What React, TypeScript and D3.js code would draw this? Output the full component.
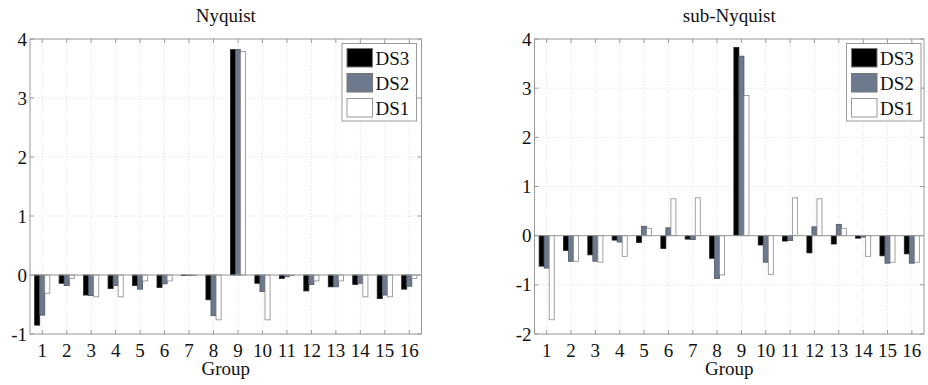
import React from "react";
import * as d3 from "d3";

const groups = ["1","2","3","4","5","6","7","8","9","10","11","12","13","14","15","16"];
const seriesNames = ["DS3", "DS2", "DS1"];
const seriesColors = ["#000000", "#6d7a8e", "#ffffff"];

const nyqDS3 = [-0.85,-0.14,-0.34,-0.23,-0.18,-0.21,-0.01,-0.42,3.82,-0.14,-0.06,-0.27,-0.2,-0.16,-0.4,-0.24];
const nyqDS2 = [-0.68,-0.18,-0.35,-0.18,-0.24,-0.15,-0.01,-0.69,3.82,-0.28,-0.03,-0.16,-0.2,-0.14,-0.34,-0.19];
const nyqDS1 = [-0.31,-0.06,-0.37,-0.37,-0.1,-0.1,-0.005,-0.76,3.79,-0.76,-0.005,-0.1,-0.1,-0.37,-0.37,-0.06];

const subDS3 = [-0.62,-0.3,-0.39,-0.09,-0.14,-0.26,-0.07,-0.46,3.83,-0.19,-0.11,-0.35,-0.17,-0.05,-0.41,-0.37];
const subDS2 = [-0.66,-0.52,-0.52,-0.13,0.19,0.16,-0.08,-0.87,3.65,-0.54,-0.1,0.18,0.23,-0.03,-0.56,-0.56];
const subDS1 = [-1.71,-0.52,-0.54,-0.42,0.15,0.75,0.77,-0.8,2.85,-0.79,0.77,0.75,0.15,-0.42,-0.54,-0.54];

const nyqTicks = [-1, 0, 1, 2, 3, 4];
const subTicks = [-2, -1, 0, 1, 2, 3, 4];

const FONT = "'Liberation Serif', 'Times New Roman', serif";
const AXIS = "#9a9a9a";

type PanelProps = {
  title: string;
  x0: number; x1: number; y0: number; y1: number;
  domain: [number, number];
  ticks: number[];
  series: number[][];
  legendX: number;
};

function Panel({ title, x0, x1, y0, y1, domain, ticks, series, legendX }: PanelProps) {
  const x = d3.scaleBand<string>().domain(groups).range([x0, x1]).padding(0);
  const y = d3.scaleLinear().domain(domain).range([y1, y0]);
  const bw = x.bandwidth();
  const inner = d3.scaleBand<string>().domain(seriesNames).range([-bw * 0.31, bw * 0.31]).padding(0);
  const tickLen = 4;
  return (
    <g>
      <text x={(x0 + x1) / 2} y={22} textAnchor="middle" fontFamily={FONT} fontSize={19} fill="#111">{title}</text>
      <rect x={x0} y={y0} width={x1 - x0} height={y1 - y0} fill="#fff" />
      {/* grid */}
      {groups.map((g) => {
        const cx = (x(g) as number) + bw / 2;
        return <line key={"gv" + g} x1={cx} x2={cx} y1={y0} y2={y1} stroke="#d8d8d8" strokeWidth={0.8} strokeDasharray="1,2" />;
      })}
      {ticks.map((t) => (
        <line key={"gh" + t} x1={x0} x2={x1} y1={y(t)} y2={y(t)} stroke="#d8d8d8" strokeWidth={0.8} strokeDasharray="1,2" />
      ))}
      {/* bars */}
      {groups.map((g, i) => {
        const cx = (x(g) as number) + bw / 2;
        return seriesNames.map((s, si) => {
          const v = series[si][i];
          const top = Math.min(y(v), y(0));
          const h = Math.abs(y(v) - y(0));
          return (
            <rect key={g + s} x={cx + (inner(s) as number)} y={top} width={inner.bandwidth()} height={Math.max(h, 0.6)}
              fill={seriesColors[si]} stroke={si === 0 ? "#222" : si === 1 ? "#4a5566" : "#8a8a8a"} strokeWidth={0.8} />
          );
        });
      })}
      {/* baseline */}
      <line x1={x0} x2={x1} y1={y(0)} y2={y(0)} stroke={AXIS} strokeWidth={1} />
      {/* axes box */}
      <rect x={x0} y={y0} width={x1 - x0} height={y1 - y0} fill="none" stroke={AXIS} strokeWidth={1} />
      {groups.map((g) => {
        const cx = (x(g) as number) + bw / 2;
        return (
          <g key={"xt" + g}>
            <line x1={cx} x2={cx} y1={y1} y2={y1 - tickLen} stroke={AXIS} />
            <line x1={cx} x2={cx} y1={y0} y2={y0 + tickLen} stroke={AXIS} />
            <text x={cx} y={357} textAnchor="middle" fontFamily={FONT} fontSize={19} fill="#111">{g}</text>
          </g>
        );
      })}
      {ticks.map((t) => (
        <g key={"yt" + t}>
          <line x1={x0} x2={x0 + tickLen} y1={y(t)} y2={y(t)} stroke={AXIS} />
          <line x1={x1} x2={x1 - tickLen} y1={y(t)} y2={y(t)} stroke={AXIS} />
          <text x={x0 - 3} y={y(t) + 6.5} textAnchor="end" fontFamily={FONT} fontSize={19} fill="#111">{t}</text>
        </g>
      ))}
      <text x={(x0 + x1) / 2} y={375} textAnchor="middle" fontFamily={FONT} fontSize={19} fill="#111">Group</text>
      {/* legend */}
      <g>
        <rect x={legendX} y={43.5} width={74.5} height={77.5} fill="#fff" stroke={AXIS} strokeWidth={1} />
        {seriesNames.map((s, si) => (
          <g key={"lg" + s}>
            <rect x={legendX + 5} y={48.5 + si * 25} width={25.5} height={18.5} fill={seriesColors[si]} stroke={si === 2 ? "#999" : "#777"} strokeWidth={1} />
            <text x={legendX + 33.5} y={64.5 + si * 25} fontFamily={FONT} fontSize={19} fill="#111">{s}</text>
          </g>
        ))}
      </g>
    </g>
  );
}

export default function App() {
  return (
    <svg width={928} height={385} style={{ position: "absolute", left: 0, top: 0, background: "#fff" }}>
      <rect x={0} y={0} width={928} height={385} fill="#fff" />
      <Panel title="Nyquist" x0={30} x1={421.5} y0={39} y1={334} domain={[-1, 4]} ticks={nyqTicks}
        series={[nyqDS3, nyqDS2, nyqDS1]} legendX={342} />
      <Panel title="sub-Nyquist" x0={534.5} x1={924} y0={39} y1={334} domain={[-2, 4]} ticks={subTicks}
        series={[subDS3, subDS2, subDS1]} legendX={846.5} />
    </svg>
  );
}
